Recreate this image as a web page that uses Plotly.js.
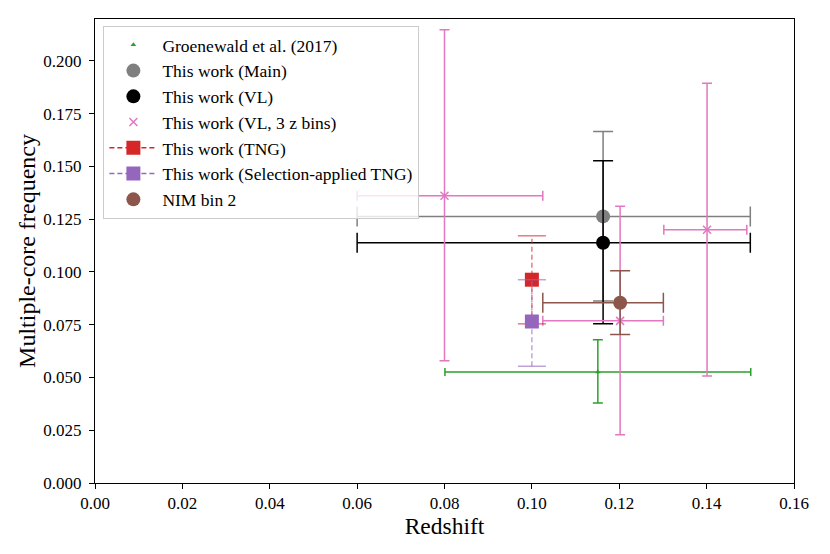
<!DOCTYPE html>
<html>
<head>
<meta charset="utf-8">
<script src="https://cdn.plot.ly/plotly-3.0.1.min.js"></script>
<style>html,body{margin:0;padding:0;background:#fff;}#chart{width:830px;height:554px;}</style>
</head>
<body>
<div id="chart"></div>
<script>
// ---- data ----
const seriesNames = ["Groenewald et al. (2017)", "This work (Main)", "This work (VL)", "This work (VL, 3 z bins)", "This work (TNG)", "This work (Selection-applied TNG)", "NIM bin 2"];

const groenX = [0.1151], groenY = [0.0526];
const groenXm = [0.0350], groenXp = [0.0350], groenYm = [0.0147], groenYp = [0.0152];

const mainX = [0.1163], mainY = [0.1263];
const mainXm = [0.0563], mainXp = [0.0337], mainYm = [0.0401], mainYp = [0.0402];

const vlX = [0.1163], vlY = [0.1138];
const vlXm = [0.0563], vlXp = [0.0337], vlYm = [0.0384], vlYp = [0.0389];

const vl3X = [0.0800, 0.1202, 0.1401], vl3Y = [0.1361, 0.0768, 0.1200];
const vl3Xm = [0.0200, 0.0177, 0.0099], vl3Xp = [0.0225, 0.0099, 0.0091];
const vl3Ym = [0.0782, 0.0540, 0.0693], vl3Yp = [0.0786, 0.0543, 0.0694];

const tngX = [0.1000], tngY = [0.0963];
const tngYm = [0.0209], tngYp = [0.0208];

const selX = [0.1000], selY = [0.0765];
const selYm = [0.0212], selYp = [0.0198];

const nimX = [0.1202], nimY = [0.0854];
const nimXm = [0.0177], nimXp = [0.0099], nimYm = [0.0150], nimYp = [0.0151];

const xTicks = [0, 0.02, 0.04, 0.06, 0.08, 0.10, 0.12, 0.14, 0.16];
const xTickText = ["0.00","0.02","0.04","0.06","0.08","0.10","0.12","0.14","0.16"];
const yTicks = [0, 0.025, 0.05, 0.075, 0.1, 0.125, 0.15, 0.175, 0.2];
const yTickText = ["0.000","0.025","0.050","0.075","0.100","0.125","0.150","0.175","0.200"];

// ---- styling ----
const FONT = "'Liberation Serif', 'Times New Roman', serif";
const C = {green:"#2ca02c", gray:"#7f7f7f", black:"#000000", pink:"#e377c2", red:"#d62728", purple:"#9467bd", brown:"#8c564b"};

function err(plus, minus, color, w) {
  return {type:"data", symmetric:false, array:plus, arrayminus:minus, color:color, thickness:1.5, width:w};
}

function dashedErr(xs, ys, yp, ym, color, name) {
  const lx = [], ly = [], cx = [], cy = [];
  xs.forEach((x, i) => {
    lx.push(x, x, null); ly.push(ys[i] - ym[i], ys[i] + yp[i], null);
    cx.push(x, x); cy.push(ys[i] - ym[i], ys[i] + yp[i]);
  });
  return [
    {x:lx, y:ly, mode:"lines", line:{color:color, width:1.5, dash:"5px,3px"}, opacity:0.6, showlegend:false, hoverinfo:"skip", name:name},
    {x:cx, y:cy, mode:"markers", marker:{symbol:"line-ew-open", size:20, color:color, line:{color:color, width:1.5}}, opacity:0.6, showlegend:false, hoverinfo:"skip", name:name}
  ];
}

const traces = [
  {x:groenX, y:groenY, name:seriesNames[0], mode:"markers",
   marker:{color:C.green, size:5, symbol:"triangle-up"},
   error_x:err(groenXp, groenXm, C.green, 4), error_y:err(groenYp, groenYm, C.green, 5)},
  {x:mainX, y:mainY, name:seriesNames[1], mode:"markers",
   marker:{color:C.gray, size:14, symbol:"circle"},
   error_x:err(mainXp, mainXm, C.gray, 10), error_y:err(mainYp, mainYm, C.gray, 10)},
  {x:vlX, y:vlY, name:seriesNames[2], mode:"markers",
   marker:{color:C.black, size:14, symbol:"circle"},
   error_x:err(vlXp, vlXm, C.black, 10), error_y:err(vlYp, vlYm, C.black, 10)},
  {x:vl3X, y:vl3Y, name:seriesNames[3], mode:"markers",
   marker:{color:C.pink, size:8, symbol:"x-thin-open", line:{color:C.pink, width:1.5}},
   error_x:err(vl3Xp, vl3Xm, C.pink, 5), error_y:err(vl3Yp, vl3Ym, C.pink, 5)},
  ...dashedErr(tngX, tngY, tngYp, tngYm, C.red, seriesNames[4]),
  {x:tngX, y:tngY, name:seriesNames[4], mode:"lines+markers",
   line:{color:C.red, width:1.5, dash:"5px,3px"},
   marker:{color:C.red, size:14, symbol:"square"}},
  ...dashedErr(selX, selY, selYp, selYm, C.purple, seriesNames[5]),
  {x:selX, y:selY, name:seriesNames[5], mode:"lines+markers",
   line:{color:C.purple, width:1.5, dash:"5px,3px"},
   marker:{color:C.purple, size:14, symbol:"square"}},
  {x:nimX, y:nimY, name:seriesNames[6], mode:"markers",
   marker:{color:C.brown, size:14, symbol:"circle"},
   error_x:err(nimXp, nimXm, C.brown, 10), error_y:err(nimYp, nimYm, C.brown, 10)}
];

const axisCommon = {
  showgrid:false, zeroline:false, showline:true, mirror:true, linecolor:"#000", linewidth:1,
  ticks:"outside", ticklen:5, tickwidth:1, tickcolor:"#000",
  tickfont:{family:FONT, size:17, color:"#000"}
};

const layout = {
  width:830, height:554,
  margin:{l:95, r:36, t:19, b:71},
  paper_bgcolor:"#fff", plot_bgcolor:"#fff",
  font:{family:FONT, color:"#000"},
  showlegend:true,
  legend:{x:0.012, y:0.985, xanchor:"left", yanchor:"top",
    bgcolor:"rgba(255,255,255,0.8)", bordercolor:"#cccccc", borderwidth:1,
    font:{family:FONT, size:17.5, color:"#000"}, itemwidth:48, tracegroupgap:0},
  xaxis:Object.assign({}, axisCommon, {
    range:[0, 0.16], tickvals:xTicks, ticktext:xTickText, ticklabelstandoff:0,
    title:{text:"Redshift", font:{family:FONT, size:23.5, color:"#000"}, standoff:0}
  }),
  yaxis:Object.assign({}, axisCommon, {
    range:[0, 0.2198], tickvals:yTicks, ticktext:yTickText, ticklabelstandoff:4,
    title:{text:"Multiple-core frequency", font:{family:FONT, size:24, color:"#000"}, standoff:0}
  })
};

Plotly.newPlot("chart", traces, layout, {displayModeBar:false, staticPlot:true});
</script>
</body>
</html>
